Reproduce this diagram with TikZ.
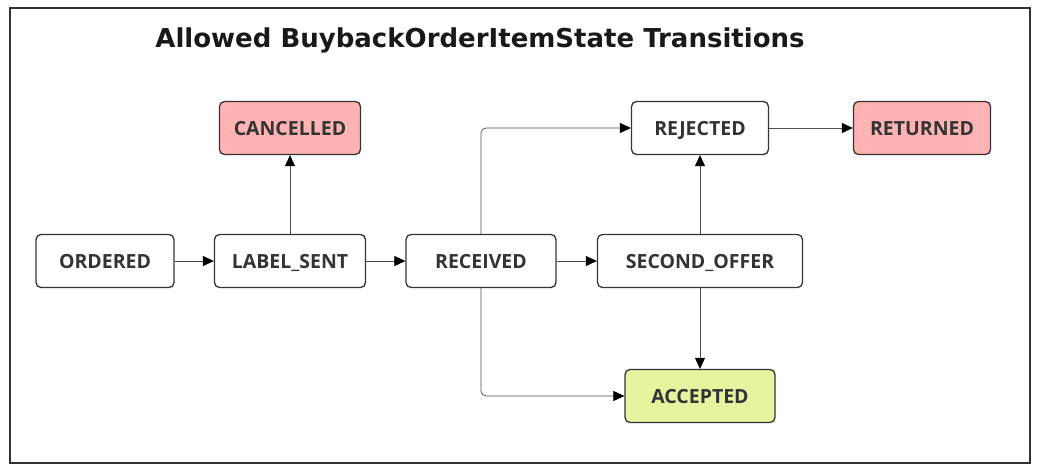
\documentclass[tikz,border=0pt]{standalone}
\usepackage{fontspec}
\setmainfont{Open Sans}
\newfontfamily\titlefont{DejaVu Sans}
\usetikzlibrary{positioning,arrows.meta}

\definecolor{txtgray}{HTML}{333333}
\definecolor{stopred}{HTML}{FFB3B3}
\definecolor{okgreen}{HTML}{E6F4A0}

\tikzset{
  state/.style={draw=txtgray, line width=1.3pt, rounded corners=5pt, fill=white,
    minimum height=53pt, font=\fontsize{19.5}{22}\selectfont\bfseries, text=txtgray,
    text height=14pt, text depth=0pt},
  final/.style={state, fill=stopred},
  done/.style={state, fill=okgreen},
  trans/.style={-{Triangle[length=11pt,width=10pt,color=black]}, line width=0.7pt, draw=black!70, rounded corners=5pt}
}

\begin{document}
\begin{tikzpicture}[x=1pt,y=-1pt]
  \useasboundingbox (0,0) rectangle (1038,471);
  \draw [line width=1.5pt, txtgray] (10,8) rectangle (1030,463);
  \node (title) at (480,40) {\titlefont\fontsize{26}{30}\selectfont\bfseries\color{black!90} Allowed BuybackOrderItemState Transitions};

  \node (ordered) [state, minimum width=138pt] at (105,261) {ORDERED};
  \node (labelsent) [state, minimum width=151pt] at (290,261) {LABEL\_SENT};
  \node (cancelled) [final, minimum width=141pt] at (290,128) {CANCELLED};
  \node (received) [state, minimum width=150pt] at (481,261) {RECEIVED};
  \node (secondoffer) [state, minimum width=205pt] at (700,261) {SECOND\_OFFER};
  \node (rejected) [state, minimum width=137pt] at (700,128) {REJECTED};
  \node (returned) [final, minimum width=137pt] at (922,128) {RETURNED};
  \node (accepted) [done, minimum width=150pt] at (700,396) {ACCEPTED};

  \draw [trans] (ordered) to (labelsent);
  \draw [trans] (labelsent) to (cancelled);
  \draw [trans] (labelsent) to (received);
  \draw [trans] (received) to (secondoffer);
  \draw [trans] (received.north) |- (rejected.west);
  \draw [trans] (received.south) |- (accepted.west);
  \draw [trans] (secondoffer) to (rejected);
  \draw [trans] (secondoffer) to (accepted);
  \draw [trans] (rejected) to (returned);
\end{tikzpicture}
\end{document}
